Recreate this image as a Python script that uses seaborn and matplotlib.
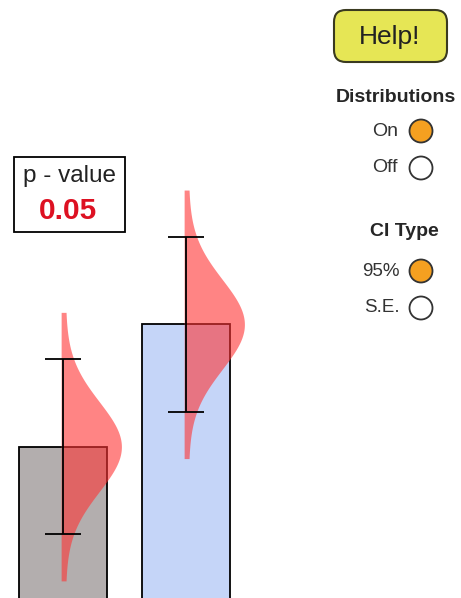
import numpy as np
import matplotlib
matplotlib.use("Agg")
import matplotlib.pyplot as plt
from matplotlib.patches import Rectangle, Circle, FancyBboxPatch
import seaborn as sns

# values
groups = ["Group 1", "Group 2"]
means = [15.25, 27.45]
ci95 = [8.75, 8.75]
bar_colors = ["#b3aeae", "#c5d5f8"]
p_value = "0.05"

dist_labels = ["On", "Off"]
dist_selected = [True, False]
ci_labels = ["95%", "S.E."]
ci_selected = [True, False]

sns.set_style("white")
plt.rcParams["font.family"] = ["Liberation Sans", "DejaVu Sans"]

fig = plt.figure(figsize=(4.61, 5.98), dpi=100)
ax = fig.add_axes([0, 0, 1, 1])

sns.barplot(x=groups, y=means, hue=groups, palette=bar_colors, legend=False,
            saturation=1, width=0.715, edgecolor="black", linewidth=1.3,
            errorbar=None, zorder=1, ax=ax)

# sampling distributions of the means (half normal on the right of each bar centre)
peak = 0.455
for i, (m, c) in enumerate(zip(means, ci95)):
    sd = c / 1.96
    yy = np.linspace(m - 3 * sd, m + 3 * sd, 300)
    width = peak * np.exp(-0.5 * ((yy - m) / sd) ** 2)
    ax.fill_betweenx(yy, i - 0.015, i + 0.02 + width, color="#ff3333",
                     alpha=0.6, linewidth=0, zorder=2)

ax.errorbar(x=range(len(means)), y=means, yerr=ci95, fmt="none",
            ecolor="black", elinewidth=1.3, capsize=13, capthick=1.3, zorder=3)

ax.set_xlim(-0.512, 3.236)
ax.set_ylim(0.15, 59.8)
ax.axis("off")

# controls drawn in pixel space
ui = fig.add_axes([0, 0, 1, 1], zorder=5)
ui.set_xlim(0, 461)
ui.set_ylim(598, 0)
ui.axis("off")
ui.patch.set_alpha(0)

ui.add_patch(Rectangle((14, 157), 111, 75, facecolor="white",
                       edgecolor="black", linewidth=1.3))
ui.text(69, 176, "p - value", ha="center", va="center", fontsize=17.5,
        color="#222222")
ui.text(68, 211, p_value, ha="center", va="center", fontsize=21.5,
        fontweight="bold", color="#dd1122")

ui.add_patch(FancyBboxPatch((340, 16), 101, 40,
                            boxstyle="round,pad=6,rounding_size=12",
                            facecolor="#e6e655", edgecolor="#3a3a20",
                            linewidth=1.5))
ui.text(390, 37, "Help!", ha="center", va="center", fontsize=19,
        color="#222222")

ui.text(396, 97, "Distributions", ha="center", va="center", fontsize=14,
        fontweight="bold")
for lab, sel, y in zip(dist_labels, dist_selected, [131, 168]):
    ui.text(398, y, lab, ha="right", va="center", fontsize=14,
            color="#333333")
    ui.add_patch(Circle((421, y), 11.5, facecolor="#f5a020" if sel else "white",
                        edgecolor="#333333", linewidth=1.3))

ui.text(404, 232, "CI Type", ha="center", va="center", fontsize=14,
        fontweight="bold")
for lab, sel, y in zip(ci_labels, ci_selected, [271, 308]):
    ui.text(400, y, lab, ha="right", va="center", fontsize=13.5,
            color="#333333")
    ui.add_patch(Circle((421, y), 11.5, facecolor="#f5a020" if sel else "white",
                        edgecolor="#333333", linewidth=1.3))

fig.savefig("out.png", dpi=100)
